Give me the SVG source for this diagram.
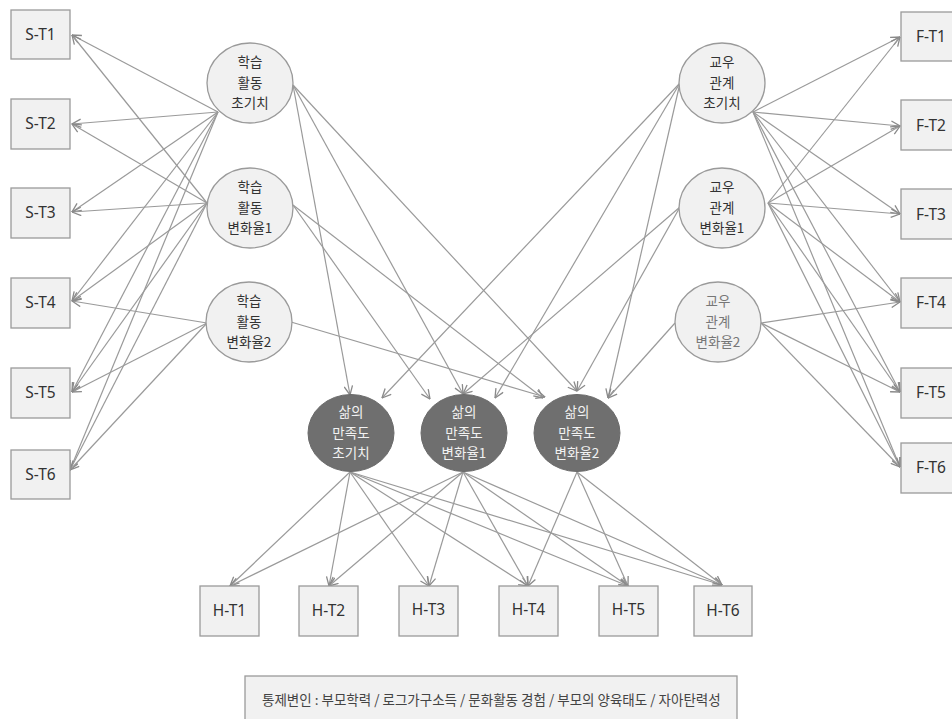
<svg xmlns="http://www.w3.org/2000/svg" width="952" height="719" viewBox="0 0 952 719">
<style>
.box{fill:#f1f1f1;stroke:#9a9a9a;stroke-width:1.3}
.ell{fill:#f1f1f1;stroke:#9a9a9a;stroke-width:1.3}
.dark{fill:#6f6f6f;stroke:#6a6a6a;stroke-width:1}
text{font-family:"Noto Sans CJK KR","Noto Sans",sans-serif;text-anchor:middle}
.bl{font-family:"Noto Sans","Noto Sans CJK KR",sans-serif;font-size:15.5px;fill:#333}
.el{font-size:13.5px;fill:#333}
.elg{font-size:13.5px;fill:#777}
.dl{font-size:13.5px;fill:#f2f2f2}
.lg{font-size:13.5px;fill:#444;text-anchor:start}
#edges line{stroke:#9a9a9a;stroke-width:1.2;marker-end:url(#arr)}
</style>
<defs>
<marker id="arr" viewBox="0 0 10 10" refX="9.5" refY="5" markerWidth="10" markerHeight="10" markerUnits="userSpaceOnUse" orient="auto">
<path d="M0.5,0.8 L9.5,5 L0.5,9.2" fill="none" stroke="#8a8a8a" stroke-width="1.3"/>
</marker>
</defs>
<rect width="952" height="719" fill="#ffffff"/>
<g id="edges">
<line x1="218" y1="112" x2="72" y2="35"/>
<line x1="218" y1="112" x2="72" y2="124"/>
<line x1="218" y1="112" x2="72" y2="212"/>
<line x1="218" y1="112" x2="72" y2="301"/>
<line x1="218" y1="112" x2="72" y2="392"/>
<line x1="218" y1="112" x2="70" y2="470"/>
<line x1="207" y1="203" x2="72" y2="35"/>
<line x1="207" y1="203" x2="72" y2="124"/>
<line x1="207" y1="203" x2="72" y2="212"/>
<line x1="207" y1="203" x2="72" y2="301"/>
<line x1="207" y1="203" x2="72" y2="392"/>
<line x1="207" y1="203" x2="70" y2="470"/>
<line x1="207" y1="323" x2="72" y2="301"/>
<line x1="207" y1="323" x2="72" y2="392"/>
<line x1="207" y1="323" x2="70" y2="470"/>
<line x1="753" y1="112" x2="900" y2="37"/>
<line x1="753" y1="112" x2="900" y2="126"/>
<line x1="753" y1="112" x2="900" y2="214"/>
<line x1="753" y1="112" x2="900" y2="302"/>
<line x1="753" y1="112" x2="900" y2="392"/>
<line x1="753" y1="112" x2="900" y2="467"/>
<line x1="768" y1="203" x2="900" y2="37"/>
<line x1="768" y1="203" x2="900" y2="126"/>
<line x1="768" y1="203" x2="900" y2="214"/>
<line x1="768" y1="203" x2="900" y2="302"/>
<line x1="768" y1="203" x2="900" y2="392"/>
<line x1="768" y1="203" x2="900" y2="467"/>
<line x1="761" y1="323" x2="900" y2="302"/>
<line x1="761" y1="323" x2="900" y2="392"/>
<line x1="761" y1="323" x2="900" y2="467"/>
<line x1="293" y1="85" x2="350" y2="395"/>
<line x1="293" y1="85" x2="463" y2="394"/>
<line x1="293" y1="85" x2="577" y2="391"/>
<line x1="293" y1="205" x2="430" y2="399"/>
<line x1="293" y1="205" x2="543" y2="398"/>
<line x1="291" y1="322" x2="545" y2="397"/>
<line x1="680" y1="83" x2="382" y2="398"/>
<line x1="680" y1="83" x2="495" y2="398"/>
<line x1="680" y1="83" x2="608" y2="398"/>
<line x1="680" y1="207" x2="463" y2="394"/>
<line x1="680" y1="207" x2="577" y2="391"/>
<line x1="675" y1="323" x2="608" y2="398"/>
<line x1="350" y1="472" x2="230" y2="586"/>
<line x1="350" y1="472" x2="329" y2="586"/>
<line x1="350" y1="472" x2="429" y2="586"/>
<line x1="350" y1="472" x2="528" y2="586"/>
<line x1="350" y1="472" x2="628" y2="586"/>
<line x1="350" y1="472" x2="722" y2="585"/>
<line x1="463" y1="472" x2="230" y2="586"/>
<line x1="463" y1="472" x2="329" y2="586"/>
<line x1="463" y1="472" x2="429" y2="586"/>
<line x1="463" y1="472" x2="528" y2="586"/>
<line x1="463" y1="472" x2="628" y2="586"/>
<line x1="463" y1="472" x2="722" y2="585"/>
<line x1="577" y1="472" x2="528" y2="586"/>
<line x1="577" y1="472" x2="628" y2="586"/>
<line x1="577" y1="472" x2="722" y2="585"/>
</g>
<g id="S-T1"><rect class="box" x="11" y="10" width="59" height="49"/><text class="bl" x="40.5" y="40">S-T1</text></g>
<g id="S-T2"><rect class="box" x="11" y="99" width="59" height="50"/><text class="bl" x="40.5" y="129">S-T2</text></g>
<g id="S-T3"><rect class="box" x="11" y="188" width="59" height="50"/><text class="bl" x="40.5" y="218">S-T3</text></g>
<g id="S-T4"><rect class="box" x="11" y="278" width="59" height="50"/><text class="bl" x="40.5" y="308">S-T4</text></g>
<g id="S-T5"><rect class="box" x="11" y="368" width="59" height="50"/><text class="bl" x="40.5" y="398">S-T5</text></g>
<g id="S-T6"><rect class="box" x="11" y="450" width="59" height="49"/><text class="bl" x="40.5" y="480">S-T6</text></g>
<g id="F-T1"><rect class="box" x="901" y="12" width="60" height="49"/><text class="bl" x="931" y="42">F-T1</text></g>
<g id="F-T2"><rect class="box" x="901" y="100" width="60" height="50"/><text class="bl" x="931" y="131">F-T2</text></g>
<g id="F-T3"><rect class="box" x="901" y="189" width="60" height="50"/><text class="bl" x="931" y="220">F-T3</text></g>
<g id="F-T4"><rect class="box" x="901" y="278" width="60" height="50"/><text class="bl" x="931" y="308">F-T4</text></g>
<g id="F-T5"><rect class="box" x="901" y="368" width="60" height="50"/><text class="bl" x="931" y="398">F-T5</text></g>
<g id="F-T6"><rect class="box" x="901" y="443" width="60" height="50"/><text class="bl" x="931" y="473">F-T6</text></g>
<g id="H-T1"><rect class="box" x="200" y="586" width="59" height="50"/><text class="bl" x="229.5" y="616">H-T1</text></g>
<g id="H-T2"><rect class="box" x="299" y="586" width="59" height="50"/><text class="bl" x="328.5" y="616">H-T2</text></g>
<g id="H-T3"><rect class="box" x="399" y="586" width="59" height="50"/><text class="bl" x="428.5" y="615">H-T3</text></g>
<g id="H-T4"><rect class="box" x="499" y="586" width="59" height="50"/><text class="bl" x="528.5" y="615">H-T4</text></g>
<g id="H-T5"><rect class="box" x="599" y="586" width="59" height="50"/><text class="bl" x="628.5" y="615">H-T5</text></g>
<g id="H-T6"><rect class="box" x="694" y="586" width="58" height="50"/><text class="bl" x="723" y="616">H-T6</text></g>
<g id="A0"><ellipse class="ell" cx="250" cy="83" rx="43" ry="40"/><text class="el" x="250" y="67">학습</text><text class="el" x="250" y="88">활동</text><text class="el" x="250" y="108">초기치</text></g>
<g id="A1"><ellipse class="ell" cx="250" cy="208" rx="43" ry="40"/><text class="el" x="250" y="192">학습</text><text class="el" x="250" y="213">활동</text><text class="el" x="250" y="233">변화율1</text></g>
<g id="A2"><ellipse class="ell" cx="249" cy="322" rx="43" ry="40"/><text class="el" x="249" y="306">학습</text><text class="el" x="249" y="327">활동</text><text class="el" x="249" y="347">변화율2</text></g>
<g id="B0"><ellipse class="ell" cx="722" cy="83" rx="43" ry="40"/><text class="el" x="722" y="67">교우</text><text class="el" x="722" y="88">관계</text><text class="el" x="722" y="108">초기치</text></g>
<g id="B1"><ellipse class="ell" cx="722" cy="208" rx="43" ry="40"/><text class="el" x="722" y="192">교우</text><text class="el" x="722" y="213">관계</text><text class="el" x="722" y="233">변화율1</text></g>
<g id="B2"><ellipse class="ell" cx="718" cy="322" rx="43" ry="40"/><text class="elg" x="718" y="306">교우</text><text class="elg" x="718" y="327">관계</text><text class="elg" x="718" y="347">변화율2</text></g>
<g id="C0"><ellipse class="dark" cx="351" cy="433" rx="43" ry="38.5"/><text class="dl" x="351" y="417">삶의</text><text class="dl" x="351" y="438">만족도</text><text class="dl" x="351" y="458">초기치</text></g>
<g id="C1"><ellipse class="dark" cx="464" cy="433" rx="43" ry="38.5"/><text class="dl" x="464" y="417">삶의</text><text class="dl" x="464" y="438">만족도</text><text class="dl" x="464" y="458">변화율1</text></g>
<g id="C2"><ellipse class="dark" cx="577" cy="433" rx="43" ry="38.5"/><text class="dl" x="577" y="417">삶의</text><text class="dl" x="577" y="438">만족도</text><text class="dl" x="577" y="458">변화율2</text></g>
<g id="legend"><rect class="box" x="245" y="676" width="492" height="50"/><text class="lg" x="262" y="705">통제변인 : 부모학력 / 로그가구소득 / 문화활동 경험 / 부모의 양육태도 / 자아탄력성</text></g>
</svg>
